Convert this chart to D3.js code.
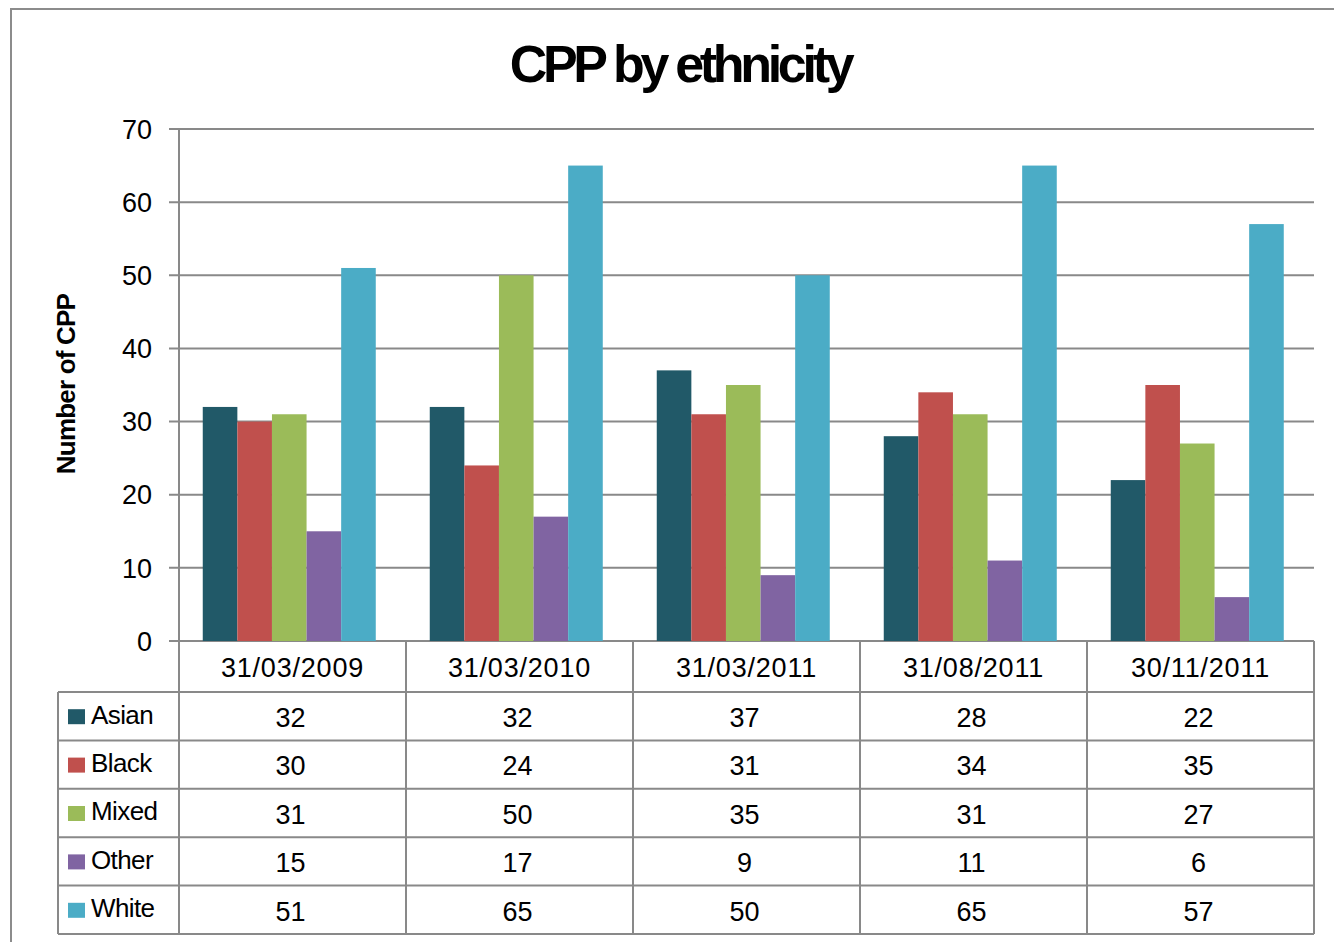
<!DOCTYPE html>
<html><head><meta charset="utf-8">
<script src="https://cdn.jsdelivr.net/npm/d3@7"></script>
<style>
html,body{margin:0;padding:0;background:#fff;}
svg{display:block;font-family:"Liberation Sans",Arial,sans-serif;}
</style></head>
<body>
<svg id="chart" width="1334" height="942"></svg>
<script>
const categories = ["31/03/2009","31/03/2010","31/03/2011","31/08/2011","30/11/2011"];
const seriesNames = ["Asian","Black","Mixed","Other","White"];
const asian = [32,32,37,28,22];
const black = [30,24,31,34,35];
const mixed = [31,50,35,31,27];
const other = [15,17,9,11,6];
const white = [51,65,50,65,57];
const seriesValues = [asian,black,mixed,other,white];
const colors = ["#215968","#C0504D","#9BBB59","#8064A2","#4BACC6"];
const yTicks = [0,10,20,30,40,50,60,70];
const title = "CPP by ethnicity";
const yTitle = "Number of CPP";

const svg = d3.select("#chart");
const grid = "#898989";

// outer frame
svg.append("rect").attr("x",11).attr("y",9).attr("width",1340).attr("height",950)
  .attr("fill","none").attr("stroke","#8c8c8c").attr("stroke-width",2);

const plotL = 179, plotR = 1314, plotT = 129, plotB = 641;
const x0 = d3.scaleBand().domain(categories).range([plotL, plotR]).padding(0);
const x1 = d3.scaleBand().domain(seriesNames).range([0, x0.bandwidth()]).paddingInner(0).paddingOuter(0.78).align(0.44);
const y = d3.scaleLinear().domain([0,70]).range([plotB, plotT]);

// gridlines
svg.append("g").selectAll("line").data(yTicks).join("line")
  .attr("x1",169).attr("x2",plotR).attr("y1",d=>y(d)).attr("y2",d=>y(d))
  .attr("stroke",grid).attr("stroke-width",2);

// y tick labels
svg.append("g").selectAll("text").data(yTicks).join("text")
  .attr("x",152).attr("y",d=>y(d)).attr("dy","0.36em").attr("text-anchor","end")
  .attr("font-size",27).attr("fill","#000").text(d=>d);

// bars
const groups = svg.append("g").selectAll("g").data(categories).join("g")
  .attr("transform",c=>`translate(${x0(c)},0)`);
groups.selectAll("rect").data((c,ci)=>seriesNames.map((s,si)=>({s,si,v:seriesValues[si][ci]})))
  .join("rect")
  .attr("x",d=>x1(d.s)).attr("width",x1.bandwidth())
  .attr("y",d=>y(d.v)).attr("height",d=>y(0)-y(d.v))
  .attr("fill",d=>colors[d.si]);

// table
const rowH = 48.4;
const headerB = 692;
const tableL = 58;
const rowsY = seriesNames.map((s,i)=>headerB + i*rowH);
const tableB = headerB + seriesNames.length*rowH;
const tg = svg.append("g");
tg.append("line").attr("x1",plotL).attr("x2",plotL).attr("y1",plotT).attr("y2",tableB)
  .attr("stroke",grid).attr("stroke-width",2);
const seps = categories.map(c=>x0(c)+x0.bandwidth());
tg.selectAll("line.sep").data(seps).join("line").attr("class","sep")
  .attr("x1",d=>d).attr("x2",d=>d).attr("y1",plotB).attr("y2",tableB)
  .attr("stroke",grid).attr("stroke-width",2);
tg.selectAll("line.row").data(rowsY.concat([tableB])).join("line").attr("class","row")
  .attr("x1",tableL).attr("x2",plotR).attr("y1",d=>d).attr("y2",d=>d)
  .attr("stroke",grid).attr("stroke-width",2);
tg.append("line").attr("x1",tableL).attr("x2",tableL).attr("y1",headerB).attr("y2",tableB)
  .attr("stroke",grid).attr("stroke-width",2);

tg.selectAll("text.cat").data(categories).join("text").attr("class","cat")
  .attr("x",c=>x0(c)+x0.bandwidth()/2).attr("y",(plotB+headerB)/2+1).attr("dy","0.36em")
  .attr("text-anchor","middle").attr("font-size",27).attr("letter-spacing",0.8).text(c=>c);

seriesNames.forEach((s,si)=>{
  const cy = rowsY[si] + rowH/2;
  tg.append("rect").attr("x",68).attr("y",cy-7).attr("width",17).attr("height",15).attr("fill",colors[si]);
  tg.append("text").attr("x",91).attr("y",cy-2).attr("dy","0.36em").attr("font-size",26)
    .attr("letter-spacing",-0.6).text(s);
  categories.forEach((c,ci)=>{
    tg.append("text").attr("x",x0(c)+x0.bandwidth()/2-2).attr("y",cy+1).attr("dy","0.36em")
      .attr("text-anchor","middle").attr("font-size",27).text(seriesValues[si][ci]);
  });
});

svg.append("text").attr("x",680).attr("y",82).attr("text-anchor","middle")
  .attr("font-size",52).attr("font-weight","bold").attr("letter-spacing",-4.3).text(title);
svg.append("text").attr("transform","translate(75,384) rotate(-90)").attr("text-anchor","middle")
  .attr("font-size",26).attr("font-weight","bold").attr("letter-spacing",-0.8).text(yTitle);
</script>
</body></html>
